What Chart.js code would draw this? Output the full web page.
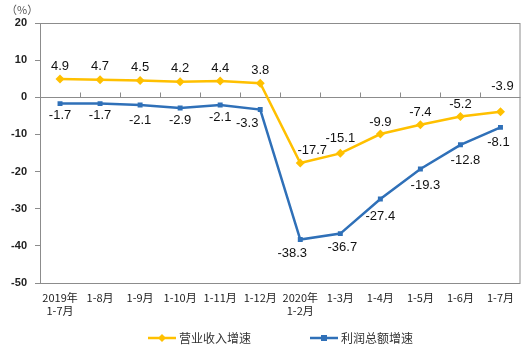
<!DOCTYPE html>
<html>
<head>
<meta charset="utf-8">
<script src="https://cdn.jsdelivr.net/npm/chart.js@4"></script>
<style>
  html, body { margin: 0; padding: 0; background: #fff; }
  #wrap { width: 525px; height: 360px; position: relative; }
</style>
</head>
<body>
<div id="wrap"><canvas id="chart"></canvas></div>
<script>
const months = [
  ['2019年', '1-7月'], '1-8月', '1-9月', '1-10月', '1-11月', '1-12月',
  ['2020年', '1-2月'], '1-3月', '1-4月', '1-5月', '1-6月', '1-7月',
];
const revenueGrowth = [4.9, 4.7, 4.5, 4.2, 4.4, 3.8, -17.7, -15.1, -9.9, -7.4, -5.2, -3.9];
const profitGrowth = [-1.7, -1.7, -2.1, -2.9, -2.1, -3.3, -38.3, -36.7, -27.4, -19.3, -12.8, -8.1];
const yTicks = [20, 10, 0, -10, -20, -30, -40, -50];

const ORANGE = '#FFC000';
const BLUE = '#2F70B8';
const AXIS = '#8c8c8c';

// label nudges [dx, dy] from each point, per series
const revenueLabelPos = [[0,-13],[0,-13],[0,-13],[0,-13],[0,-13],[0,-13],[12,-13],[0,-15],[0,-12],[0,-12],[0,-12],[2,-25]];
const profitLabelPos = [[0,12],[0,12],[0,15],[0,12],[0,12],[-13,14],[-8,14],[2,14],[0,17],[5,16],[5,16],[-2,15]];

const extras = {
  id: 'extras',
  afterDatasetsDraw(chart) {
    const { ctx, chartArea: a, scales: { x, y } } = chart;
    ctx.save();
    // frame
    ctx.strokeStyle = AXIS;
    ctx.lineWidth = 1;
    ctx.strokeRect(a.left + 0.5, a.top + 0.5, a.right - a.left - 1, a.bottom - a.top);
    // category ticks on the zero line
    const y0 = Math.round(y.getPixelForValue(0)) + 0.5;
    ctx.beginPath();
    for (let i = 1; i < months.length; i++) {
      const bx = Math.round((x.getPixelForValue(i) + x.getPixelForValue(i - 1)) / 2) + 0.5;
      ctx.moveTo(bx, y0);
      ctx.lineTo(bx, y0 - 5);
    }
    ctx.stroke();

    // data labels
    ctx.font = '13px "Liberation Sans", Arial, sans-serif';
    ctx.fillStyle = '#111';
    ctx.textAlign = 'center';
    ctx.textBaseline = 'middle';
    const pos = [revenueLabelPos, profitLabelPos];
    chart.data.datasets.forEach((ds, di) => {
      chart.getDatasetMeta(di).data.forEach((pt, i) => {
        const [dx, dy] = pos[di][i];
        ctx.fillText(ds.data[i].toFixed(1), pt.x + dx, pt.y + dy);
      });
    });

    // unit
    ctx.font = '11px "Noto Sans CJK SC", sans-serif';
    ctx.fillStyle = '#555';
    ctx.textAlign = 'left';
    ctx.fillText('（%）', 6, 10);

    // legend
    const items = [
      { label: '营业收入增速', color: ORANGE, x: 148, style: 'diamond' },
      { label: '利润总额增速', color: BLUE, x: 310, style: 'square' },
    ];
    const ly = 338;
    items.forEach((it) => {
      ctx.strokeStyle = it.color;
      ctx.fillStyle = it.color;
      ctx.lineWidth = 2.5;
      ctx.beginPath();
      ctx.moveTo(it.x, ly);
      ctx.lineTo(it.x + 28, ly);
      ctx.stroke();
      const cx = it.x + 14;
      if (it.style === 'diamond') {
        ctx.beginPath();
        ctx.moveTo(cx, ly - 4);
        ctx.lineTo(cx + 4, ly);
        ctx.lineTo(cx, ly + 4);
        ctx.lineTo(cx - 4, ly);
        ctx.closePath();
        ctx.fill();
      } else {
        ctx.fillRect(cx - 3, ly - 3, 6, 6);
      }
      ctx.fillStyle = '#333';
      ctx.font = '12px "Noto Sans CJK SC", sans-serif';
      ctx.fillText(it.label, it.x + 31, ly);
    });
    ctx.restore();
  },
};

new Chart(document.getElementById('chart'), {
  type: 'line',
  data: {
    labels: months,
    datasets: [
      {
        label: '营业收入增速',
        data: revenueGrowth,
        borderColor: ORANGE,
        backgroundColor: ORANGE,
        borderWidth: 2.5,
        pointStyle: 'rectRot',
        pointRadius: 4.5,
        pointBorderWidth: 0,
        tension: 0,
      },
      {
        label: '利润总额增速',
        data: profitGrowth,
        borderColor: BLUE,
        backgroundColor: BLUE,
        borderWidth: 2.5,
        pointStyle: 'rect',
        pointRadius: 3.5,
        pointBorderWidth: 0,
        tension: 0,
      },
    ],
  },
  options: {
    responsive: true,
    maintainAspectRatio: false,
    animation: false,
    layout: { padding: { top: 23, right: 4, left: 0, bottom: 0 } },
    plugins: { legend: { display: false }, tooltip: { enabled: false } },
    scales: {
      x: {
        offset: true,
        grid: { display: false, drawTicks: false },
        border: { display: false },
        afterFit: (scale) => { scale.height = 77; },
        ticks: {
          autoSkip: false,
          maxRotation: 0,
          padding: 8,
          color: '#222',
          font: { family: '"Noto Sans CJK SC", sans-serif', size: 11, lineHeight: 1.2 },
        },
      },
      y: {
        min: -50,
        max: 20,
        afterFit: (scale) => { scale.width = 40; },
        afterBuildTicks: (scale) => { scale.ticks = yTicks.map((v) => ({ value: v })); },
        grid: {
          color: (c) => (c.tick && c.tick.value === 0 ? AXIS : 'rgba(0,0,0,0)'),
          tickColor: AXIS,
          tickLength: 5,
        },
        border: { display: false },
        ticks: {
          padding: 8,
          color: '#222',
          font: { family: '"Liberation Sans", Arial, sans-serif', size: 11, weight: 'bold' },
        },
      },
    },
  },
  plugins: [extras],
});
</script>
</body>
</html>
